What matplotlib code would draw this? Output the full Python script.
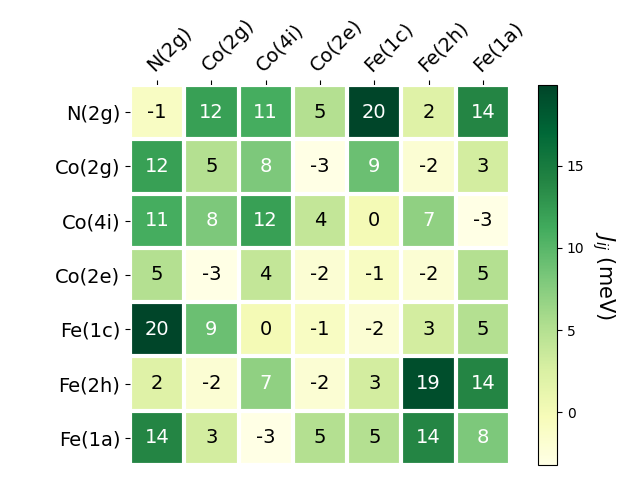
import numpy as np
import matplotlib
matplotlib.use("Agg")
import matplotlib.pyplot as plt

labels = ["N(2g)", "Co(2g)", "Co(4i)", "Co(2e)", "Fe(1c)", "Fe(2h)", "Fe(1a)"]
values = np.array([
    [-1, 12, 11, 5, 19.9, 2, 14],
    [12, 5, 8, -3.2, 9, -2, 3],
    [11, 8, 12, 4, 0, 7, -3.2],
    [5, -3.2, 4, -2, -1, -2, 5],
    [19.9, 9, 0, -1, -2, 3, 5],
    [2, -2, 7, -2, 3, 19, 14],
    [14, 3, -3.2, 5, 5, 14, 8],
])

fig = plt.figure(figsize=(6.4, 4.8), dpi=100)
ax = fig.add_axes([130/640, 15/480, 380/640, 380/480])
cax = fig.add_axes([538/640, 15/480, 19/640, 380/480])

im = ax.imshow(values, cmap="YlGn", aspect="auto")
cb = fig.colorbar(im, cax=cax)
cb.set_label("$J_{ij}$ (meV)", rotation=-90, va="bottom", fontsize=15)
cb.ax.tick_params(labelsize=10)

n = len(labels)
ax.set_xticks(np.arange(n))
ax.set_yticks(np.arange(n))
ax.set_xticklabels(labels, fontsize=14)
ax.set_yticklabels(labels, fontsize=14)
ax.tick_params(top=True, bottom=False, labeltop=True, labelbottom=False)
plt.setp(ax.get_xticklabels(), rotation=45, ha="left", rotation_mode="anchor")

for s in ax.spines.values():
    s.set_visible(False)
ax.set_xticks(np.arange(n + 1) - 0.5, minor=True)
ax.set_yticks(np.arange(n + 1) - 0.5, minor=True)
ax.grid(which="minor", color="w", linestyle="-", linewidth=3)
ax.tick_params(which="minor", bottom=False, left=False, top=False)

for i in range(n):
    for j in range(n):
        v = values[i, j]
        ax.text(j, i, f"{v:.0f}", ha="center", va="center", fontsize=14,
                color="white" if v > 6 else "black")

fig.savefig("out.png", dpi=100)
